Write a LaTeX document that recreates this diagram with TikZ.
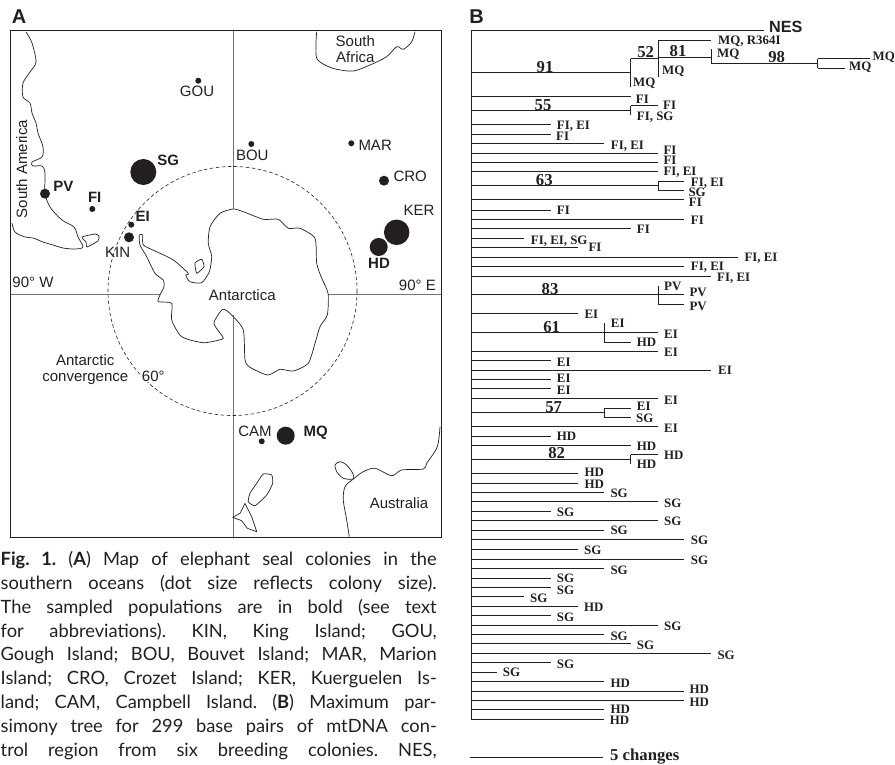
\documentclass[tikz,border=0pt]{standalone}
\usepackage{fontspec}
\setmainfont{Liberation Serif}
\newfontfamily\mapfont{Liberation Sans}
\newfontfamily\capfont{Lato}
\definecolor{inkdark}{RGB}{35,31,32}
\definecolor{meridiangray}{RGB}{115,115,115}
\begin{document}
\begin{tikzpicture}[
            x=1pt, y=-1pt,
            every node/.style={text=inkdark, inner sep=0pt},
            panel/.style={font=\mapfont\bfseries\fontsize{20}{20}\selectfont},
            place/.style={font=\mapfont\fontsize{15}{16}\selectfont, align=center},
            colony/.style={place, font=\mapfont\bfseries\fontsize{15}{16}\selectfont},
            dot/.style={circle, fill=inkdark, minimum size=#1},
            coast/.style={draw=inkdark, line width=0.7pt, line join=round},
            meridian/.style={draw=meridiangray, line width=1pt},
            branch/.style={draw=inkdark, line width=0.85pt},
            leaf/.style={anchor=west, font=\bfseries\fontsize{12.9}{13}\selectfont,
                text height=8.5pt, text depth=0pt},
            support/.style={font=\bfseries\fontsize{16.7}{17}\selectfont}
          ]
          \useasboundingbox (0,0) rectangle (895,765);
          % panel A
          \node[panel] (labA) at (19,17) {A};
          \draw[meridian] (233,30.5) -- (233,209);
          \draw[meridian] (233,315) -- (233,537);
          \draw[meridian] (10.5,294.5) -- (160,294.5);
          \draw[meridian] (328,294.5) -- (441,294.5);
          \draw[draw=inkdark, line width=0.9pt] (10.5,30.5) rectangle (441,537);
          \draw[draw=inkdark, line width=0.6pt, dash pattern=on 3.5pt off 2.5pt] (232.5,291) circle (124.5);
          % coast lines
          \draw[coast] plot[smooth, tension=0.5] coordinates {(26,32) (32,43) (36,62) (30,72) (23,83) (23,97) (30,103) (32,113) (36,123) (38,133) (43,147) (42,157) (32,162) (33,166) (42,166) (45,173) (45,193) (50,207) (62,220) (74,227) (78,237) (83,247) (75,249) (63,248) (53,245) (43,242) (33,238) (25,237) (15,232) (12,223)};
          \draw[coast] plot[smooth cycle, tension=0.3] coordinates {(82,237) (95,234) (99,236) (98,241) (87,247) (86,242)};
          \draw[coast] plot[smooth cycle, tension=0.4] coordinates {(139.3,235) (142.7,235) (143.3,245) (156.7,251.7) (173.3,260) (188.3,273.3) (185.7,275) (190,281.7) (201.7,282.7) (209.3,271.7) (211.7,256.7) (208.3,243.3) (210,226.7) (220,213.3) (233.3,209) (243.3,211.7) (263.3,219.3) (278.3,219.3) (288.3,228.3) (300,228.3) (315,238.3) (316.7,263.3) (321.7,278.3) (325,285) (328.3,295) (327.3,315) (320,326.7) (315,343.3) (308.3,363.3) (293.3,371) (280,369.3) (267.7,375) (250,367.3) (245,360) (243.3,330) (231.7,315) (222.7,309.3) (214,323.3) (222.7,336.7) (221.7,339.3) (203.3,342.7) (181.7,336.7) (171.7,320) (171.7,303.3) (158.3,301.7) (160,295) (164,286.7) (163.3,280) (155,273.3) (146.7,256.7) (140,245)};
          \draw[coast] plot[smooth cycle, tension=0.3] coordinates {(195,263) (201.7,259.3) (204,266.7) (196.7,273.3)};
          \draw[coast] plot[smooth, tension=0.5] coordinates {(316.7,31.7) (316,43.3) (316.7,58.3) (325,65) (336.7,69.3) (353.3,71) (370,65) (386.7,56.7) (396.7,46.7) (403.3,49.3) (411.7,41.7) (415,31.7)};
          \draw[coast] plot[smooth, tension=0.5] coordinates {(440,426.7) (437.3,446.7) (426.7,463.3) (423.3,469) (401.7,470) (391.7,475.7) (375,468.3) (363.3,471.7) (353.3,479) (345,486.7) (343.3,500) (346.7,520) (349.3,536.7)};
          \draw[coast] plot[smooth cycle, tension=0.5] coordinates {(353.3,479) (343.3,478.3) (336.7,471.7) (335,465) (340,461.7) (346.7,465) (352.7,473.3)};
          \draw[coast] plot[smooth cycle, tension=0.3] coordinates {(271.7,475) (263.3,474) (256.7,483.3) (250,493.3) (248.3,501.7) (255,505.7) (266.7,495) (272.7,483.3)};
          \draw[coast] (245,503.3) -- (240,513.3) -- (232.7,517.3) -- (241.7,520.7) -- (247.3,528.3) -- (256.7,531.7) -- (251.7,516.7) -- cycle;
          % colonies
          \node[dot=6pt]  (gou) at (198.3,80.7) {};
          \node[dot=6pt]  (bou) at (251.3,144) {};
          \node[dot=6pt]  (mar) at (351.3,143.3) {};
          \node[dot=10pt] (cro) at (384,180.7) {};
          \node[dot=25.5pt] (ker) at (396.7,232.3) {};
          \node[dot=18pt] (hd) at (378.7,247) {};
          \node[dot=26pt] (sg) at (143.3,172) {};
          \node[dot=10pt] (pv) at (45,193.7) {};
          \node[dot=6pt]  (fi) at (92.3,209) {};
          \node[dot=6pt]  (ei) at (131.3,224.7) {};
          \node[dot=10pt] (kin) at (129,237.3) {};
          \node[dot=6pt]  (cam) at (261.7,441.3) {};
          \node[dot=18pt] (mq) at (285.7,435.7) {};
          \node[place]  (lgou) at (197,91.7) {GOU};
          \node[place]  (lbou) at (252.3,155) {BOU};
          \node[place, anchor=west] (lmar) at (358.3,145) {MAR};
          \node[place, anchor=west] (lcro) at (393.3,176.7) {CRO};
          \node[place]  (lker) at (419,210.7) {KER};
          \node[colony] (lhd) at (379,263.3) {HD};
          \node[colony] (lsg) at (168.3,160.7) {SG};
          \node[colony] (lpv) at (63.3,186.7) {PV};
          \node[colony] (lfi) at (94.7,197.7) {FI};
          \node[colony] (lei) at (142.7,216.7) {EI};
          \node[place]  (lkin) at (117.7,252.7) {KIN};
          \node[place]  (lcam) at (255,431.7) {CAM};
          \node[colony] (lmq) at (315.7,432.7) {MQ};
          \node[place, anchor=west] (w90) at (12.3,282.7) {90° W};
          \node[place, anchor=east] (e90) at (436,285) {90° E};
          \node[place] (antarctica) at (242.3,295) {Antarctica};
          \node[place] (conv) at (85.3,369.7) {Antarctic\\convergence};
          \node[place, fill=white, inner sep=1pt] (lat) at (153.3,376) {60°};
          \node[place, rotate=90] (samerica) at (21.7,169) {South America};
          \node[place] (safrica) at (355.3,48.7) {South\\Africa};
          \node[place] (australia) at (399,503.3) {Australia};
          % caption
          \node[anchor=north west, text width=436pt, align=justify,
            font=\capfont\fontsize{18.3}{23.9}\selectfont] (caption) at (0.5,551) {\parfillskip=0pt\frenchspacing
            {\bfseries Fig. 1.} ({\bfseries A}) Map of elephant seal colonies in the\linebreak
            southern oceans (dot size reflects colony size).\linebreak
            The sampled populations are in bold (see text\linebreak
            for abbreviations). KIN, King Island; GOU,\linebreak
            Gough Island; BOU, Bouvet Island; MAR, Marion\linebreak
            Island; CRO, Crozet Island; KER, Kuerguelen Is-\linebreak
            land; CAM, Campbell Island. ({\bfseries B}) Maximum par-\linebreak
            simony tree for 299 base pairs of mtDNA con-\linebreak
            trol region from six breeding colonies. NES,\par};
          % panel B, stem
          \node[panel] (labB) at (476.7,17) {B};
          \coordinate (top) at (471,30.5);
          \coordinate (bottom) at (471,719.3);
          \coordinate (nesend) at (764,30.5);
          \draw[branch] (top) -- (bottom);
          \draw[branch] (top) -- (nesend);
          \node[anchor=west, font=\mapfont\bfseries\fontsize{16.2}{17}\selectfont] (nes) at (769,27) {NES};
          % branches from the stem, y / end / label x / label y / label
          \foreach \ypos/\xend/\xlab/\ylab/\txt [count=\i] in {
              96.3/630.7/635.7/99/FI, 124.3/550.7/556.7/125/{FI, EI}, 134/550.7/556/136/FI,
              143.3/604.3/610.7/145/{FI, EI}, 153/658/663.3/150/FI, 162.3/658/663.3/160.7/FI,
              171.7/658/663.3/171.7/{FI, EI}, 199.7/684.3/688.7/202.7/FI, 210/550.7/556.7/210.7/FI,
              219.3/684.3/690.7/220.7/FI, 228.7/630.7/636.7/229.7/FI,
              238.3/524/530.7/240/{FI, EI, SG}, 247.7/578/588.3/247.3/FI,
              257/737.7/744.3/257.7/{FI, EI}, 266.3/684.3/690.7/266/{FI, EI},
              276/711.3/717/277.7/{FI, EI}, 313.7/578/584.3/314.7/EI, 351/658/664/352.7/EI,
              360.7/550.7/556.7/362/EI, 370/711.3/718/370.7/EI, 379.3/550.7/556.7/378.7/EI,
              388.7/550.7/556.7/390.7/EI, 398.3/658/664/400/EI, 426.3/658/664/428/EI,
              436/550.7/556.7/436.7/HD, 445.3/630.7/636.7/446.7/HD, 473.7/578/584.3/472.7/HD,
              483/578/584.3/484.7/HD, 492.3/604.3/610.3/493.7/SG, 501.7/658/664/503/SG,
              511.3/550.7/556.7/512.7/SG, 520.7/658/664/521.7/SG, 530/604.3/610.3/530.7/SG,
              539.3/684.3/690.7/540.7/SG, 549.3/578/584/550.7/SG, 559/684.3/690.7/560/SG,
              568.7/604.3/610.3/570/SG, 578/550.7/556.7/578/SG, 587/550.7/556.7/590/SG,
              596.7/524/530/598/SG, 606/578/584/607.7/HD, 615.3/550.7/556.7/617/SG,
              625/658/664/626/SG, 634.3/604.3/610.3/636/SG, 643.7/630.7/636.7/645/SG,
              653.3/711.3/717.3/655/SG, 662.7/550.7/556.7/664/SG, 672/497/502.7/672.7/SG,
              681.3/604.3/610.3/683/HD, 691/684.3/689.3/689.7/HD, 700.3/684.3/689.3/702.7/HD,
              709.7/604.3/610.3/709.3/HD, 719/604.3/609.7/720.7/HD} {
            \coordinate (s\i) at (471,\ypos);
            \coordinate (e\i) at (\xend,\ypos);
            \draw[branch] (s\i) -- (e\i);
            \node[leaf] (l\i) at (\xlab,\ylab) {\txt};
          }
          % group 91
          \coordinate (a0) at (471,72.3);
          \coordinate (a1) at (630.7,72.3);
          \coordinate (a1t) at (630.7,58.7);
          \coordinate (a1b) at (630.7,86.7);
          \coordinate (a2) at (658,58.7);
          \coordinate (a2t) at (658,40);
          \coordinate (a2b) at (658,77.3);
          \coordinate (a3) at (711.3,40);
          \coordinate (a4) at (658,57);
          \coordinate (a5) at (711.3,57);
          \coordinate (a5t) at (711.3,49.3);
          \coordinate (a5b) at (711.3,63.3);
          \coordinate (a6) at (817.7,63.3);
          \coordinate (a6t) at (817.7,58.7);
          \coordinate (a6b) at (817.7,68.3);
          \coordinate (a7) at (869.5,58.7);
          \coordinate (a8) at (845,68.3);
          \draw[branch] (a0) -- (a1);
          \draw[branch] (a1t) -- (a1b);
          \draw[branch] (a1t) -- (a2);
          \draw[branch] (a2t) -- (a2b);
          \draw[branch] (a2t) -- (a3);
          \draw[branch] (a4) -- (a5);
          \draw[branch] (a5t) -- (a5b);
          \draw[branch] (a5b) -- (a6);
          \draw[branch] (a6t) -- (a6b);
          \draw[branch] (a6t) -- (a7);
          \draw[branch] (a6b) -- (a8);
          \node[support] (n91) at (545,66.7) {91};
          \node[support] (n52) at (645.7,51.7) {52};
          \node[support] (n81) at (678,50.7) {81};
          \node[support] (n98) at (776.7,57.3) {98};
          \node[leaf] (mq1) at (633,82.7) {MQ};
          \node[leaf] (mq2) at (662,70.7) {MQ};
          \node[leaf] (mq3) at (718,40.7) {MQ, R364I};
          \node[leaf] (mq4) at (717,53.7) {MQ};
          \node[leaf] (mq5) at (872.4,56) {MQ};
          \node[leaf] (mq6) at (849,66.7) {MQ};
          % group 55
          \coordinate (b0) at (471,110.3);
          \coordinate (b1) at (630.7,110.3);
          \coordinate (b1t) at (630.7,105.7);
          \coordinate (b1b) at (630.7,115);
          \coordinate (b2) at (658,105.7);
          \draw[branch] (b0) -- (b1);
          \draw[branch] (b1t) -- (b1b);
          \draw[branch] (b1t) -- (b2);
          \node[support] (n55) at (543,104.7) {55};
          \node[leaf] (fi1) at (663,105.7) {FI};
          \node[leaf] (fi2) at (636.7,116) {FI, SG};
          % group 63
          \coordinate (c0) at (471,185.7);
          \coordinate (c1) at (658,185.7);
          \coordinate (c1t) at (658,181);
          \coordinate (c1b) at (658,190.3);
          \coordinate (c2) at (684.3,181);
          \coordinate (c3) at (684.3,190.3);
          \draw[branch] (c0) -- (c1);
          \draw[branch] (c1t) -- (c1b);
          \draw[branch] (c1t) -- (c2);
          \draw[branch] (c1b) -- (c3);
          \node[support] (n63) at (544.3,180) {63};
          \node[leaf] (fi3) at (690.7,182) {FI, EI};
          \node[leaf] (sg1) at (688.3,192.7) {SG};
          % group 83
          \coordinate (d0) at (471,294.7);
          \coordinate (d1) at (684.3,294.7);
          \coordinate (d2t) at (658,285.7);
          \coordinate (d2b) at (658,304);
          \coordinate (d3) at (684.3,304);
          \draw[branch] (d0) -- (d1);
          \draw[branch] (d2t) -- (d2b);
          \draw[branch] (d2b) -- (d3);
          \node[support] (n83) at (550,288.7) {83};
          \node[leaf] (pv1) at (664,286.7) {PV};
          \node[leaf] (pv2) at (689.3,292.7) {PV};
          \node[leaf] (pv3) at (689.3,306.7) {PV};
          % group 61
          \coordinate (f0) at (471,332.3);
          \coordinate (f1) at (658,332.3);
          \coordinate (f2t) at (604.3,323.3);
          \coordinate (f2b) at (604.3,342);
          \coordinate (f3) at (630.7,342);
          \draw[branch] (f0) -- (f1);
          \draw[branch] (f2t) -- (f2b);
          \draw[branch] (f2b) -- (f3);
          \node[support] (n61) at (551.7,326.7) {61};
          \node[leaf] (ei1) at (610.7,323.7) {EI};
          \node[leaf] (ei2) at (664,334) {EI};
          \node[leaf] (hd1) at (636.7,342.7) {HD};
          % group 57
          \coordinate (g0) at (471,412.3);
          \coordinate (g1) at (604.3,412.3);
          \coordinate (g1t) at (604.3,408);
          \coordinate (g1b) at (604.3,417);
          \coordinate (g2) at (630.7,408);
          \coordinate (g3) at (630.7,417);
          \draw[branch] (g0) -- (g1);
          \draw[branch] (g1t) -- (g1b);
          \draw[branch] (g1t) -- (g2);
          \draw[branch] (g1b) -- (g3);
          \node[support] (n57) at (553.7,406.7) {57};
          \node[leaf] (ei3) at (636.7,406.7) {EI};
          \node[leaf] (sg2) at (636,418.7) {SG};
          % group 82
          \coordinate (h0) at (471,459.3);
          \coordinate (h1) at (630.7,459.3);
          \coordinate (h1t) at (630.7,454.7);
          \coordinate (h1b) at (630.7,464.3);
          \coordinate (h2) at (658,454.7);
          \draw[branch] (h0) -- (h1);
          \draw[branch] (h1t) -- (h1b);
          \draw[branch] (h1t) -- (h2);
          \node[support] (n82) at (556.7,453.3) {82};
          \node[leaf] (hd2) at (664,455.7) {HD};
          \node[leaf] (hd3) at (636.7,464.7) {HD};
          % scale bar
          \node[anchor=west, font=\bfseries\fontsize{16.7}{17}\selectfont] (scale) at (610,757) {5 changes};
          \coordinate (barl) at (470,757.7);
          \coordinate (barr) at (603.3,757.7);
          \draw[branch] (barl) -- (barr);
        \end{tikzpicture}
\end{document}
